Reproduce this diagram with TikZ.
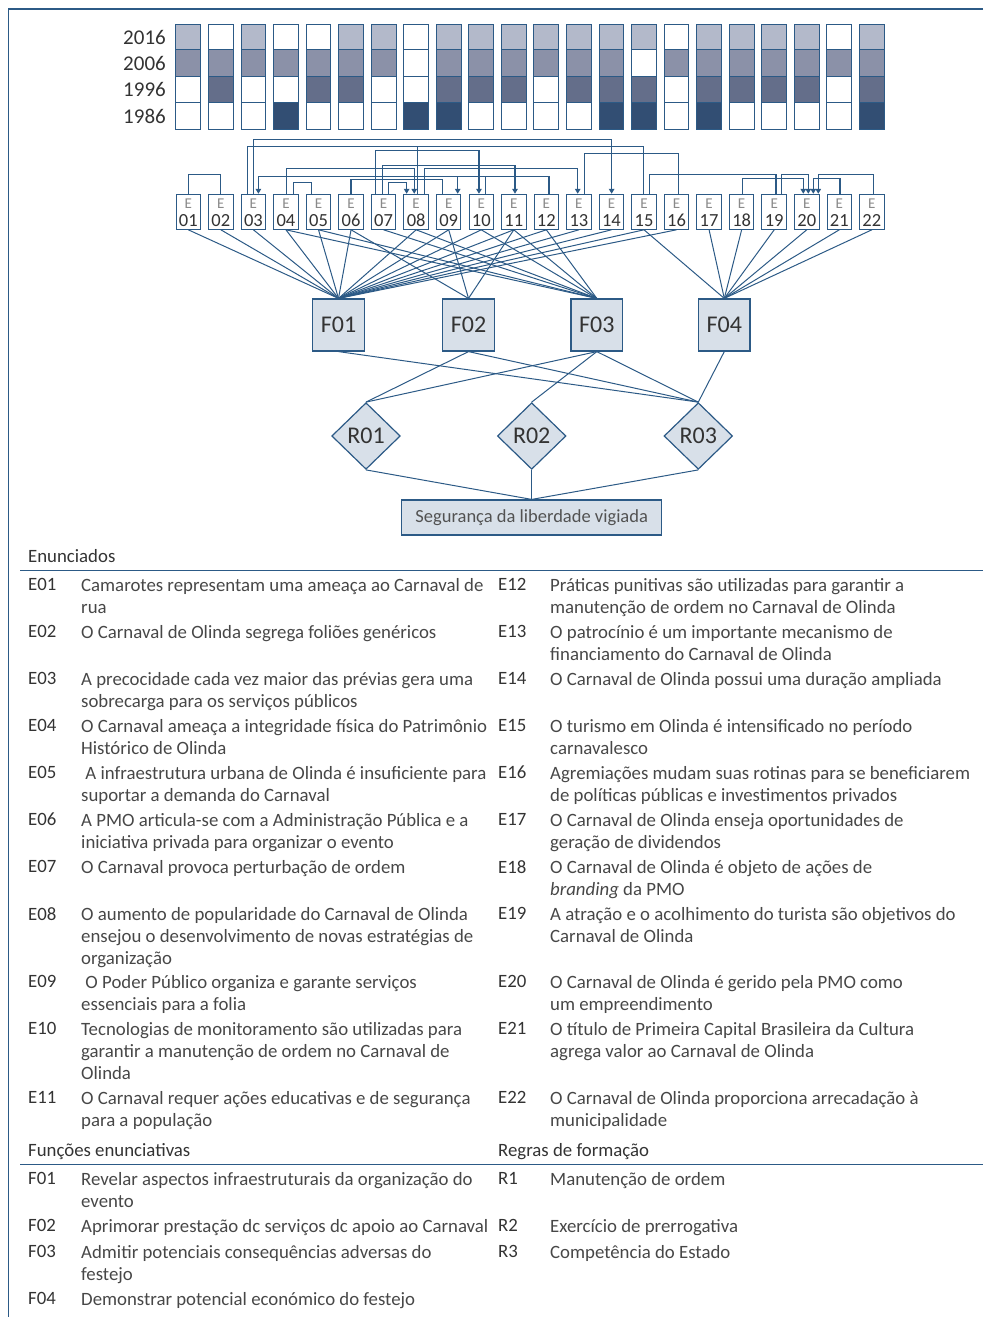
\documentclass[tikz,border=0pt]{standalone}
\usepackage{fontspec}
\setmainfont{Carlito}
\usetikzlibrary{arrows.meta,shapes.geometric}
\definecolor{ln}{HTML}{2C5A86}
\definecolor{fbox}{HTML}{D8E0E9}
\definecolor{cL}{HTML}{B3B9CA}
\definecolor{cM}{HTML}{8B91A8}
\definecolor{cD}{HTML}{646E8A}
\definecolor{cX}{HTML}{324E73}
\definecolor{txt}{HTML}{333333}
\definecolor{eg}{HTML}{8A8A8A}
\begin{document}
\begin{tikzpicture}[x=1pt,y=-1pt,
  cn/.style={draw=ln, line width=1.2pt},
  cna/.style={cn, -{Triangle[length=5pt,width=5.5pt]}},
  ef/.style={draw=ln, line width=1pt},
  ebox/.style={draw=ln, line width=1pt, fill=white, minimum width=24.5pt, minimum height=35pt, inner sep=0pt},
  elet/.style={font=\fontsize{15}{15}\selectfont, text=eg, inner sep=0pt},
  enum/.style={font=\fontsize{18.5}{18.5}\selectfont, text=txt, inner sep=0pt},
  fbx/.style={draw=ln, line width=1.2pt, fill=fbox, minimum width=51.5pt, minimum height=52pt, inner sep=0pt, font=\fontsize{24}{24}\selectfont, text=txt},
  rdia/.style={diamond, draw=ln, line width=1.2pt, fill=fbox, minimum width=68.6pt, minimum height=66.6pt, inner sep=0pt, font=\fontsize{24}{24}\selectfont, text=txt},
  sbox/.style={draw=ln, line width=1.2pt, fill=fbox, minimum width=260pt, minimum height=35pt, inner sep=0pt, font=\fontsize{18.5}{18.5}\selectfont, text=txt!85},
  yr/.style={anchor=east, font=\fontsize{21}{21}\selectfont, text=txt, inner sep=0pt},
  hd/.style={anchor=north west, inner sep=0pt, font=\fontsize{18.8}{22}\selectfont, text=txt},
  lab/.style={anchor=north west, inner sep=0pt, font=\fontsize{18.8}{22}\selectfont, text=txt},
  tx/.style={anchor=north west, inner sep=0pt, align=left, font=\fontsize{18.8}{22}\selectfont, text=txt!90},
  rule/.style={draw=ln, line width=1pt}
]
\useasboundingbox (0,0) rectangle (983,1317);
% frame
\draw[draw=ln, line width=1.4pt] (983,9) -- (8.5,9) -- (8.5,1317);

% year labels
\node[yr] (y2016) at (166,37) {2016};
\node[yr] (y2006) at (166,63) {2006};
\node[yr] (y1996) at (166,89) {1996};
\node[yr] (y1986) at (166,116) {1986};

% grid
\foreach \a/\b/\c/\d [count=\i] in {1/2/0/0,0/2/3/0,1/2/0/0,0/2/0/4,0/2/3/0,1/2/3/0,1/2/0/0,0/0/0/4,1/2/3/4,1/2/3/0,1/2/3/0,1/2/0/0,1/2/3/0,1/2/3/4,1/0/3/4,0/2/0/0,1/2/3/4,1/2/3/0,1/2/3/0,1/2/3/0,0/2/0/0,1/2/3/4}{
  \pgfmathsetmacro{\cx}{188.3+(\i-1)*32.55}
  \foreach \v/\ya/\yb in {\a/24/49.3,\b/49.3/76,\c/76/102.7,\d/102.7/129.3}{
    \ifcase\v \def\cc{white}\or\def\cc{cL}\or\def\cc{cM}\or\def\cc{cD}\or\def\cc{cX}\fi
    \filldraw[fill=\cc, draw=ln, line width=1pt] (\cx-12.4,\ya) rectangle (\cx+12.4,\yb);
  }
}

% E boxes
\foreach \n [count=\i] in {01,02,03,04,05,06,07,08,09,10,11,12,13,14,15,16,17,18,19,20,21,22}{
  \node[ebox] (E\n) at ({188.3+(\i-1)*32.55},211.8) {};
  \node[elet] (E\n l) at ({188.3+(\i-1)*32.55},203.5) {E};
  \node[enum] (E\n n) at ({188.3+(\i-1)*32.55},220.5) {\n};
}

% F, R, S nodes
\node[fbx] (F01) at (338.5,325) {F01};
\node[fbx] (F02) at (468.5,325) {F02};
\node[fbx] (F03) at (596.8,325) {F03};
\node[fbx] (F04) at (724.3,325) {F04};
\node[rdia] (R01) at (366,436) {R01};
\node[rdia] (R02) at (531.7,436) {R02};
\node[rdia] (R03) at (698.3,436) {R03};
\node[sbox] (S) at (531.7,517.5) {Segurança da liberdade vigiada};

% connectors between statements
\draw[cn] (E01.north) -- ++(0,-19.3) -| (E02.north);
\draw[cna] ([xshift=-0.2pt]E03.north) -- ++(0,-54.3) -| ([xshift=0.2pt]E14.north);
\draw[cn] ([xshift=-5.8pt]E03.north) -- ++(0,-47) -| ([xshift=-0.7pt]E15.north);
\draw[cn] ([xshift=1.5pt]E08.north) -- ++(0,-47);
\draw[cna] ([xshift=-7.9pt]E07.north) -- ++(0,-43.3) -| ([xshift=-2.3pt]E10.north);
\draw[cn] ([xshift=5.4pt]E13.north) -- ++(0,-40) -| ([xshift=1.7pt]E16.north);
\draw[cna] ([xshift=-1.3pt]E07.north) -- ++(0,-28.3) -| ([xshift=1.2pt]E11.north);
\draw[cna] ([xshift=0.7pt]E04.north) -- ++(0,-25) -| ([xshift=-1.9pt]E08.north);
\draw[cna] ([xshift=8.2pt]E08.north) -- ++(0,-25) -| ([xshift=-1.2pt]E13.north);
\draw[cn] ([xshift=7.3pt]E04.north) -- ++(0,-11.6) -| ([xshift=-6.8pt]E05.north);
\draw[cn] (E06.north) -- ++(0,-14.3) -| ([xshift=-6.4pt]E09.north);
\draw[cna] ([xshift=4.7pt]E07.north) -- ++(0,-11.6) -| ([xshift=-9.5pt]E08.north);
\draw[cna] ([xshift=4.4pt]E10.north) -- ++(0,-17) -| ([xshift=5pt]E03.north);
\draw[cna] ([xshift=2.6pt]E12.north) -- ++(0,-17) -| ([xshift=9pt]E09.north);
\draw[cn] ([xshift=5.3pt]E15.north) -- ++(0,-19.3) -| ([xshift=1.8pt]E19.north);
\draw[cna] ([xshift=1.1pt]E18.north) -- ++(0,-15) -| ([xshift=-3.45pt]E20.north);
\draw[cna] ([xshift=7.5pt]E19.north) -- ++(0,-19.3) -| ([xshift=1.55pt]E20.north);
\draw[cna] ([xshift=0.7pt]E21.north) -- ++(0,-15) -| ([xshift=6.55pt]E20.north);
\draw[cna] ([xshift=1.4pt]E22.north) -- ++(0,-19.3) -| ([xshift=11.55pt]E20.north);

% E -> F
\foreach \e in {01,02,03,04,05,06,08,09,10,11,12,13,14,15,16}{\draw[ef] (E\e.south) -- (F01.north);}
\foreach \e in {06,09,11}{\draw[ef] (E\e.south) -- (F02.north);}
\foreach \e in {04,05,07,08,10,11,12}{\draw[ef] (E\e.south) -- (F03.north);}
\foreach \e in {15,17,18,19,20,21,22}{\draw[ef] (E\e.south) -- (F04.north);}

% F -> R
\draw[ef] (F01.south) -- (R03.north);
\draw[ef] (F02.south) -- (R01.north);
\draw[ef] (F02.south) -- (R03.north);
\draw[ef] (F03.south) -- (R01.north);
\draw[ef] (F03.south) -- (R02.north);
\draw[ef] (F03.south) -- (R03.north);
\draw[ef] (F04.south) -- (R03.north);
\foreach \r in {R01,R02,R03}{\draw[ef] (\r.south) -- (S.north);}

% legend
\node[hd] (h1) at (28,549) {Enunciados};
\draw[rule] (20,570) -- (983,570);
\node[hd] (h2) at (28,1143) {Funções enunciativas};
\node[hd] (h3) at (498,1143) {Regras de formação};
\draw[rule] (20,1164) -- (983,1164);

\foreach \k/\y/\t in {
 E01/578/{Camarotes representam uma ameaça ao Carnaval de\\rua},
 E02/625/{O Carnaval de Olinda segrega foliões genéricos},
 E03/672/{A precocidade cada vez maior das prévias gera uma\\sobrecarga para os serviços públicos},
 E04/719/{O Carnaval ameaça a integridade física do Patrimônio\\Histórico de Olinda},
 E05/766/{\ A infraestrutura urbana de Olinda é insuficiente para\\suportar a demanda do Carnaval},
 E06/813/{A PMO articula-se com a Administração Pública e a\\iniciativa privada para organizar o evento},
 E07/860/{O Carnaval provoca perturbação de ordem},
 E08/907/{O aumento de popularidade do Carnaval de Olinda\\ensejou o desenvolvimento de novas estratégias de\\organização},
 E09/975/{\ O Poder Público organiza e garante serviços\\essenciais para a folia},
 E10/1022/{Tecnologias de monitoramento são utilizadas para\\garantir a manutenção de ordem no Carnaval de\\Olinda},
 E11/1091/{O Carnaval requer ações educativas e de segurança\\para a população},
 F01/1172/{Revelar aspectos infraestruturais da organização do\\evento},
 F02/1219/{Aprimorar prestação dc serviços dc apoio ao Carnaval},
 F03/1245/{Admitir potenciais consequências adversas do\\festejo},
 F04/1292/{Demonstrar potencial económico do festejo}}{
  \node[lab] (L\k) at (28,\y) {\k};
  \node[tx] (T\k) at (81,\y) {\t};
}
\foreach \k/\y/\t in {
 E12/578/{Práticas punitivas são utilizadas para garantir a\\manutenção de ordem no Carnaval de Olinda},
 E13/625/{O patrocínio é um importante mecanismo de\\financiamento do Carnaval de Olinda},
 E14/672/{O Carnaval de Olinda possui uma duração ampliada},
 E15/719/{O turismo em Olinda é intensificado no período\\carnavalesco},
 E16/766/{Agremiações mudam suas rotinas para se beneficiarem\\de políticas públicas e investimentos privados},
 E17/813/{O Carnaval de Olinda enseja oportunidades de\\geração de dividendos},
 E18/860/{O Carnaval de Olinda é objeto de ações de\\\textit{branding} da PMO},
 E19/907/{A atração e o acolhimento do turista são objetivos do\\Carnaval de Olinda},
 E20/975/{O Carnaval de Olinda é gerido pela PMO como\\um empreendimento},
 E21/1022/{O título de Primeira Capital Brasileira da Cultura\\agrega valor ao Carnaval de Olinda},
 E22/1091/{O Carnaval de Olinda proporciona arrecadação à\\municipalidade},
 R1/1172/{Manutenção de ordem},
 R2/1219/{Exercício de prerrogativa},
 R3/1245/{Competência do Estado}}{
  \node[lab] (L\k) at (498,\y) {\k};
  \node[tx] (T\k) at (550,\y) {\t};
}
\end{tikzpicture}
\end{document}
